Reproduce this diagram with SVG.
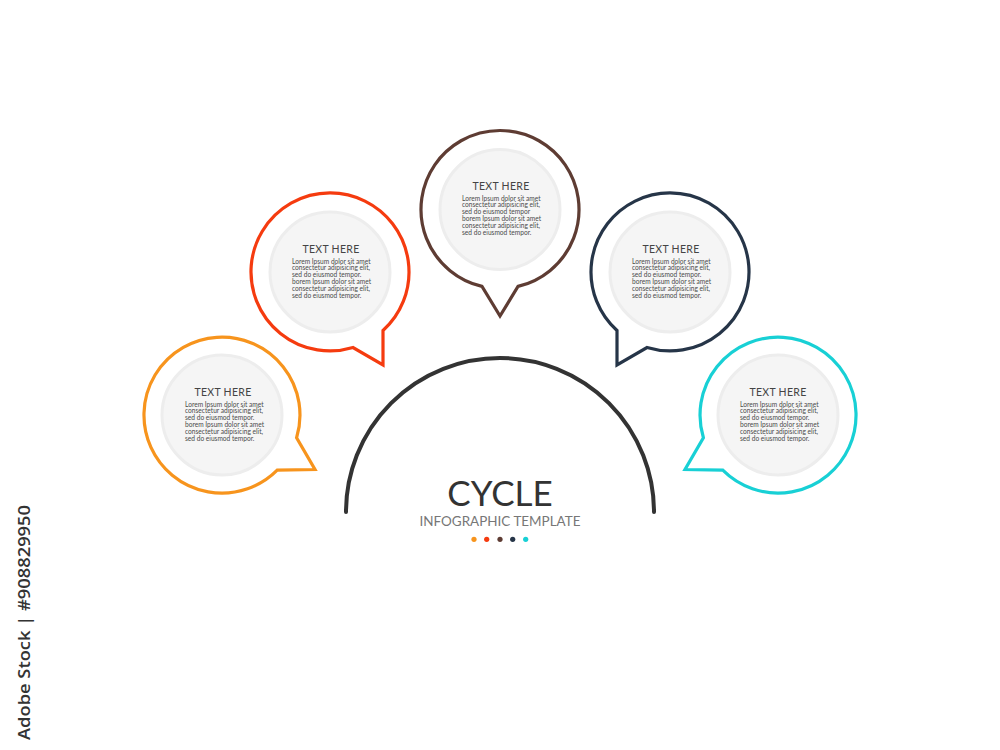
<svg xmlns="http://www.w3.org/2000/svg" width="1000" height="750" viewBox="0 0 1000 750">
<style>
.bub{fill:none;stroke-width:3.2;stroke-linejoin:miter}
.inner{fill:#f5f5f5;stroke:#ededed;stroke-width:3}
.ttl{font-family:Lato,"Open Sans",sans-serif;font-size:10.5px;fill:#444;text-anchor:middle;letter-spacing:0.3px}
.body{font-family:Lato,"Open Sans",sans-serif;font-size:6.6px;fill:#4a4a4a}
</style>
<rect width="1000" height="750" fill="#ffffff"/>

<g id="connectors">
  <path d="M346,512 A154,154 0 0 1 654,512" fill="none" stroke="#333333" stroke-width="4" stroke-linecap="round"/>
</g>

<g id="node-orange">
  <path class="bub" stroke="#f7941d" d="M277.2,470.2 A78,78 0 1 1 296.6,437.8 L315,469.5 Z"/>
  <circle class="inner" cx="222" cy="415" r="60"/>
  <text class="ttl" x="223" y="396">TEXT HERE</text>
  <text class="body" x="185" y="406.5">
    <tspan x="185">Lorem Ipsum dolor sit amet</tspan>
    <tspan x="185" dy="6.8">consectetur adipisicing elit,</tspan>
    <tspan x="185" dy="6.8">sed do eiusmod tempor.</tspan>
    <tspan x="185" dy="6.8">borem Ipsum dolor sit amet</tspan>
    <tspan x="185" dy="6.8">consectetur adipisicing elit,</tspan>
    <tspan x="185" dy="6.8">sed do eiusmod tempor.</tspan>
  </text>
</g>

<g id="node-red">
  <path class="bub" stroke="#f53b0f" d="M353,347.5 A79,79 0 1 1 383,330.5 L383,365 Z"/>
  <circle class="inner" cx="330" cy="272" r="60"/>
  <text class="ttl" x="331" y="253">TEXT HERE</text>
  <text class="body" x="292" y="263.5">
    <tspan x="292">Lorem Ipsum dolor sit amet</tspan>
    <tspan x="292" dy="6.8">consectetur adipisicing elit,</tspan>
    <tspan x="292" dy="6.8">sed do eiusmod tempor.</tspan>
    <tspan x="292" dy="6.8">borem Ipsum dolor sit amet</tspan>
    <tspan x="292" dy="6.8">consectetur adipisicing elit,</tspan>
    <tspan x="292" dy="6.8">sed do eiusmod tempor.</tspan>
  </text>
</g>

<g id="node-brown">
  <path class="bub" stroke="#5e3c33" d="M518,286.4 A79,79 0 1 0 482,286.4 L500,316 Z"/>
  <circle class="inner" cx="500" cy="209.5" r="60"/>
  <text class="ttl" x="501" y="190">TEXT HERE</text>
  <text class="body" x="462" y="200.5">
    <tspan x="462">Lorem Ipsum dolor sit amet</tspan>
    <tspan x="462" dy="6.8">consectetur adipisicing elit,</tspan>
    <tspan x="462" dy="6.8">sed do eiusmod tempor</tspan>
    <tspan x="462" dy="6.8">borem Ipsum dolor sit amet</tspan>
    <tspan x="462" dy="6.8">consectetur adipisicing elit,</tspan>
    <tspan x="462" dy="6.8">sed do eiusmod tempor.</tspan>
  </text>
</g>

<g id="node-navy">
  <path class="bub" stroke="#263548" d="M647,347.5 A79,79 0 1 0 617,330.5 L617,365 Z"/>
  <circle class="inner" cx="670" cy="272" r="60"/>
  <text class="ttl" x="671" y="253">TEXT HERE</text>
  <text class="body" x="632" y="263.5">
    <tspan x="632">Lorem Ipsum dolor sit amet</tspan>
    <tspan x="632" dy="6.8">consectetur adipisicing elit,</tspan>
    <tspan x="632" dy="6.8">sed do eiusmod tempor.</tspan>
    <tspan x="632" dy="6.8">borem Ipsum dolor sit amet</tspan>
    <tspan x="632" dy="6.8">consectetur adipisicing elit,</tspan>
    <tspan x="632" dy="6.8">sed do eiusmod tempor.</tspan>
  </text>
</g>

<g id="node-cyan">
  <path class="bub" stroke="#18d0d5" d="M722.8,470.2 A78,78 0 1 0 703.4,437.8 L685,469.5 Z"/>
  <circle class="inner" cx="778" cy="415" r="60"/>
  <text class="ttl" x="778" y="396">TEXT HERE</text>
  <text class="body" x="740" y="406.5">
    <tspan x="740">Lorem Ipsum dolor sit amet</tspan>
    <tspan x="740" dy="6.8">consectetur adipisicing elit,</tspan>
    <tspan x="740" dy="6.8">sed do eiusmod tempor.</tspan>
    <tspan x="740" dy="6.8">borem Ipsum dolor sit amet</tspan>
    <tspan x="740" dy="6.8">consectetur adipisicing elit,</tspan>
    <tspan x="740" dy="6.8">sed do eiusmod tempor.</tspan>
  </text>
</g>

<g id="title">
  <text x="500" y="506" font-family="Lato,'Open Sans',sans-serif" font-size="35" fill="#333333" text-anchor="middle">CYCLE</text>
  <text x="500" y="526" font-family="Lato,'Open Sans',sans-serif" font-size="12.5" fill="#777777" text-anchor="middle" textLength="161" lengthAdjust="spacingAndGlyphs">INFOGRAPHIC TEMPLATE</text>
  <circle cx="474" cy="539.3" r="2.6" fill="#f7941d"/>
  <circle cx="486.7" cy="539.3" r="2.6" fill="#f53b0f"/>
  <circle cx="500" cy="539.3" r="2.6" fill="#5e3c33"/>
  <circle cx="512.7" cy="539.3" r="2.6" fill="#263548"/>
  <circle cx="525.7" cy="539.3" r="2.6" fill="#18d0d5"/>
</g>

<text transform="translate(30,740) rotate(-90)" font-family="'Open Sans','DejaVu Sans',sans-serif" font-size="17" font-weight="600" fill="#333333" textLength="235" lengthAdjust="spacingAndGlyphs">Adobe Stock | #908829950</text>
</svg>
